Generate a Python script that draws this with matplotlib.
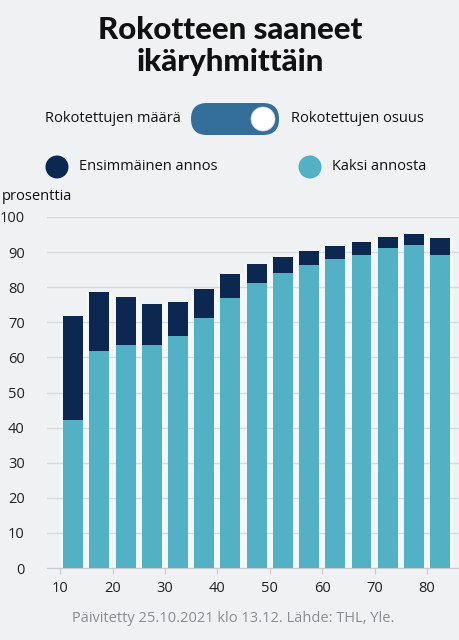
import matplotlib
matplotlib.use('Agg')
import matplotlib.pyplot as plt
from matplotlib.patches import FancyBboxPatch, Circle

# Data
ages = [12.5, 17.5, 22.5, 27.5, 32.5, 37.5, 42.5, 47.5, 52.5, 57.5, 62.5, 67.5, 72.5, 77.5, 82.5]
two_doses = [42.3, 61.9, 63.5, 63.5, 66.0, 71.1, 77.0, 81.2, 84.1, 86.2, 88.1, 89.3, 91.2, 92.1, 89.3]
first_dose = [71.7, 78.7, 77.1, 75.1, 75.9, 79.5, 83.7, 86.6, 88.7, 90.2, 91.7, 92.8, 94.3, 95.2, 94.0]
xticks = [10, 20, 30, 40, 50, 60, 70, 80]
yticks = [0, 10, 20, 30, 40, 50, 60, 70, 80, 90, 100]

bg = '#f0f1f3'
dark = '#0d2850'
light = '#52b1c5'
W, H = 460, 640

plt.rcParams['font.family'] = ['Open Sans', 'DejaVu Sans']

fig = plt.figure(figsize=(W / 100, H / 100), dpi=100, facecolor=bg)

# Title
for txt, yy in [('Rokotteen saaneet', 30), ('ikäryhmittäin', 62)]:
    fig.text(0.5, 1 - yy / H, txt, ha='center', va='center', fontsize=22.5,
             fontweight='black', family=['Lato', 'DejaVu Sans'], color='#111111')

# Toggle
fig.text(45 / W, 1 - 119 / H, 'Rokotettujen määrä', ha='left', va='center', fontsize=10.5,
         color='#111111')
fig.text(291 / W, 1 - 119 / H, 'Rokotettujen osuus', ha='left', va='center', fontsize=10.5,
         color='#111111')
ov = fig.add_axes([0, 0, 1, 1], zorder=-1)
ov.set_xlim(0, W)
ov.set_ylim(H, 0)
ov.axis('off')
ov.add_patch(FancyBboxPatch((191, 103), 88, 32, boxstyle='round,pad=0,rounding_size=16',
                            facecolor='#336f98', edgecolor='none'))
ov.add_patch(Circle((263, 119), 12, facecolor='white', edgecolor='#d0d4d8', lw=0.5))

# Legend
ov.add_patch(Circle((57, 167), 11.5, facecolor=dark, edgecolor='none'))
ov.add_patch(Circle((310, 167), 11.5, facecolor=light, edgecolor='none'))
fig.text(79 / W, 1 - 167 / H, 'Ensimmäinen annos', ha='left', va='center', fontsize=10.5,
         color='#111111')
fig.text(332 / W, 1 - 167 / H, 'Kaksi annosta', ha='left', va='center', fontsize=10.5,
         color='#111111')

fig.text(2 / W, 1 - 196 / H, 'prosenttia', ha='left', va='center', fontsize=10.5, color='#111111')

# Chart
ax = fig.add_axes([47 / W, 1 - 568 / H, 1 - 47 / W, (568 - 217) / H])
ax.set_facecolor(bg)
ax.bar(ages, first_dose, width=4.95, color='#f5f8fa', linewidth=0, zorder=1)
ax.bar(ages, first_dose, width=3.8, color=dark, linewidth=0, zorder=2)
ax.bar(ages, two_doses, width=3.8, color=light, linewidth=0, zorder=3)
ax.set_xlim(7.5, 86.3)
ax.set_ylim(0, 100)
ax.set_xticks(xticks)
ax.set_yticks(yticks)
ax.grid(axis='y', color='#d8dbde', linewidth=1, zorder=0)
for s in ['top', 'right', 'left']:
    ax.spines[s].set_visible(False)
ax.spines['bottom'].set_color('#c8cbce')
ax.tick_params(axis='y', length=0, pad=16, labelsize=10.5, labelcolor='#222222')
ax.tick_params(axis='x', length=4, color='#c8cbce', pad=5, labelsize=10.5, labelcolor='#222222')

fig.text(233 / W, 1 - 618 / H, 'Päivitetty 25.10.2021 klo 13.12. Lähde: THL, Yle.',
         ha='center', va='center', fontsize=10.5, color='#8a8d91')

fig.savefig('out.png', dpi=100, facecolor=bg)
